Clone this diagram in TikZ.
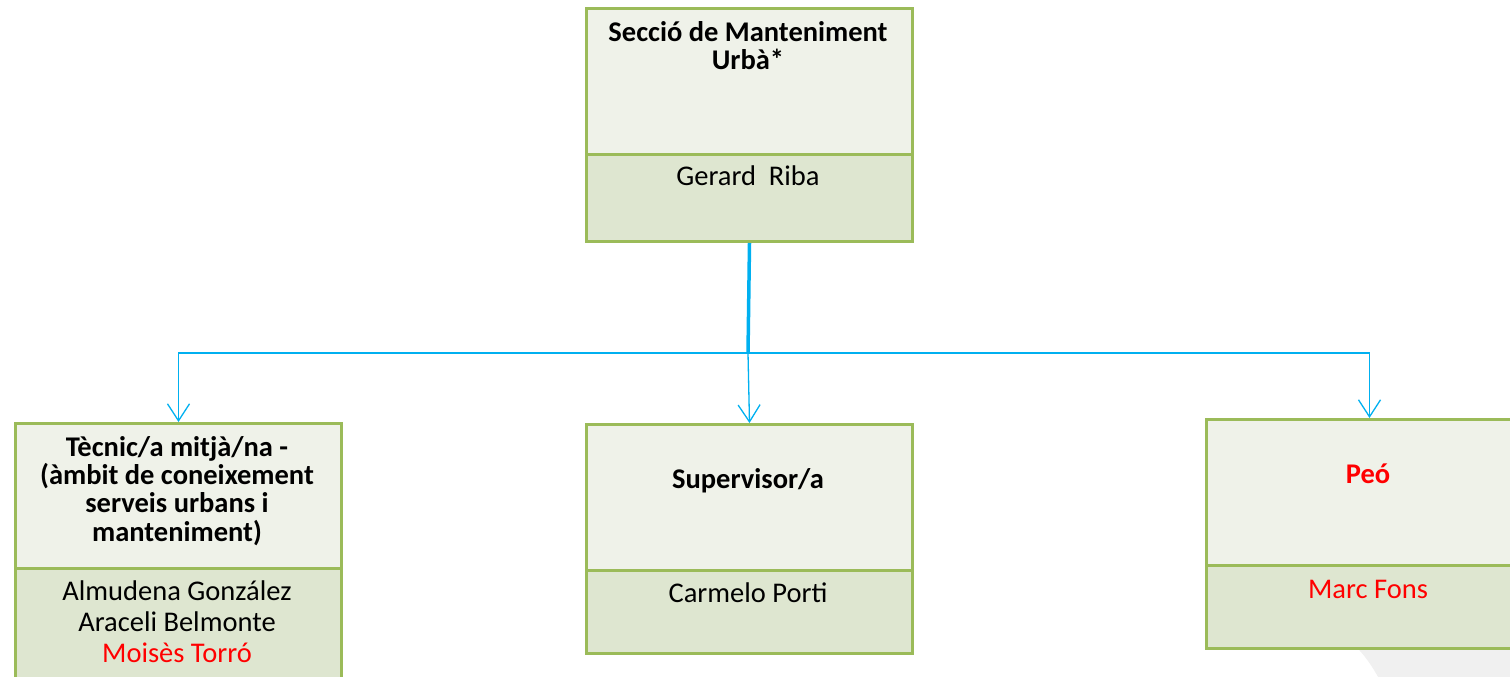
\documentclass[tikz,border=0pt]{standalone}
\usepackage{fontspec}
\setmainfont{Carlito}
\usetikzlibrary{arrows.meta}
\definecolor{boxline}{RGB}{155,187,89}
\definecolor{topfill}{RGB}{239,242,233}
\definecolor{botfill}{RGB}{222,230,208}
\definecolor{conn}{RGB}{0,176,240}
\definecolor{redtxt}{RGB}{255,0,0}
\tikzset{
  titlepart/.style={draw=boxline, line width=3pt, fill=topfill, rectangle, anchor=north west, inner sep=0pt, minimum width=326pt},
  namepart/.style={draw=boxline, line width=3pt, fill=botfill, rectangle, anchor=north west, inner sep=0pt, minimum width=326pt},
  ttl/.style={anchor=base, inner sep=0pt, align=center, font=\fontsize{28.5}{28.3}\selectfont\bfseries},
  nm/.style={anchor=base, inner sep=0pt, align=center, font=\fontsize{28.5}{31}\selectfont},
  link/.style={draw=conn, line width=1.3pt},
  arr/.style={link, -{Straight Barb[length=17pt,width=22pt,line width=1.3pt]}},
}
\begin{document}
\begin{tikzpicture}[x=1pt,y=-1pt]
\useasboundingbox (0,0) rectangle (1510,677);
% faint gray shape bottom right
\fill[gray!12] (1355,646) -- (1520,646) -- (1520,690) -- (1385,690) .. controls (1375,670) and (1365,655) .. (1355,646) -- cycle;
% top box
\node[titlepart, minimum height=146pt] (topT) at (585,7) {};
\node[namepart, minimum height=87pt] (topN) at (585,153) {};
\node[ttl] (topTx) at (748,70) {Secció de Manteniment\\Urbà*};
\node[nm] (topNx) at (748,185) {Gerard\ \ Riba};
% left box
\node[titlepart, minimum height=145pt] (lT) at (14,422) {};
\node[namepart, minimum height=130pt] (lN) at (14,567) {};
\node[ttl] (lTx) at (177,541) {Tècnic/a mitjà/na -\\(àmbit de coneixement\\serveis urbans i\\manteniment)};
\node[nm] (lNx) at (177,662) {Almudena González\\Araceli Belmonte\\\textcolor{redtxt}{Moisès Torró}};
% middle box
\node[titlepart, minimum height=146pt] (mT) at (585,423) {};
\node[namepart, minimum height=83pt] (mN) at (585,569) {};
\node[ttl] (mTx) at (748,488) {Supervisor/a};
\node[nm] (mNx) at (748,602) {Carmelo Porti};
% right box
\node[titlepart, minimum height=146pt] (rT) at (1205,418) {};
\node[namepart, minimum height=83pt] (rN) at (1205,564) {};
\node[ttl, text=redtxt] (rTx) at (1368,483) {Peó};
\node[nm, text=redtxt] (rNx) at (1368,598) {Marc Fons};
% connectors
\coordinate (hub) at (748,353);
\draw[link, line width=3.5pt] (topN.south) -- (hub);
\draw[arr] (hub) -| (lT.north);
\draw[arr] (hub) -- (mT.north);
\draw[arr] (hub) -| (rT.north);
\end{tikzpicture}
\end{document}
